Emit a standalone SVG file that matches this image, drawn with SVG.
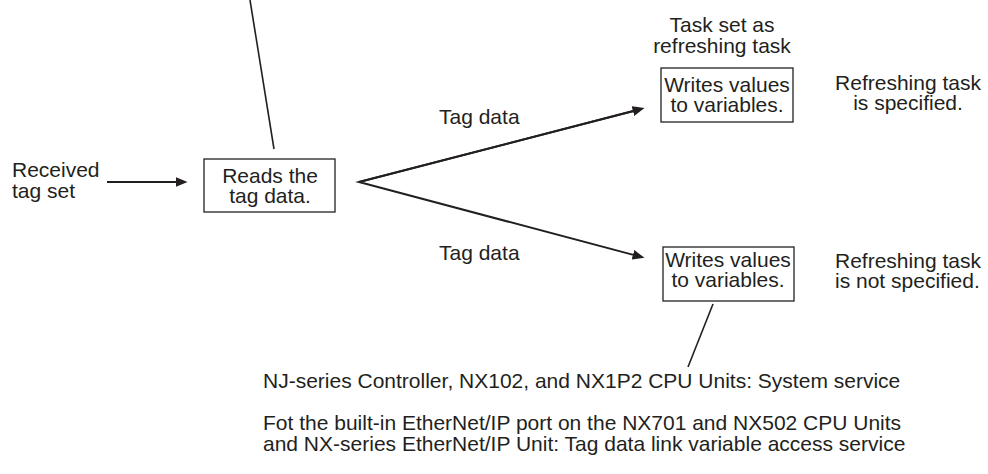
<svg xmlns="http://www.w3.org/2000/svg" width="988" height="474" viewBox="0 0 988 474">
<style>
text{font-family:"Liberation Sans",Arial,sans-serif;font-size:21px;fill:#231f20}
.c{text-anchor:middle}
.box{fill:#fff;stroke:#231f20;stroke-width:1.3}
.ln{fill:none;stroke:#231f20;stroke-width:1.6}
.ar{fill:none;stroke:#231f20;stroke-width:2}
</style>
<defs>
<marker id="ah" viewBox="0 0 12 10" refX="0.5" refY="5" markerWidth="12" markerHeight="10" markerUnits="userSpaceOnUse" orient="auto">
<path d="M0,0 L12,5 L0,10 z" fill="#231f20"/>
</marker>
</defs>
<g id="connectors">
<line class="ln" x1="250" y1="0" x2="274" y2="149"/>
<line class="ar" x1="107" y1="182" x2="176" y2="182" marker-end="url(#ah)"/>
<polyline class="ar" points="633.4,111 359,182 633.4,254.9" marker-end="url(#ah)"/>
<line class="ar" x1="359" y1="182" x2="633.4" y2="111" marker-end="url(#ah)"/>
<line class="ln" x1="713" y1="304" x2="688" y2="367"/>
</g>
<g id="received">
<text x="12" y="177">Received</text>
<text x="12" y="198">tag set</text>
</g>
<g id="reads">
<rect class="box" x="204" y="159" width="131" height="53"/>
<text class="c" x="270" y="183">Reads the</text>
<text class="c" x="270" y="203">tag data.</text>
</g>
<g id="tagdata1"><text x="439" y="124">Tag data</text></g>
<g id="tagdata2"><text x="439" y="260">Tag data</text></g>
<g id="taskset">
<text class="c" x="722" y="32">Task set as</text>
<text class="c" x="722" y="53">refreshing task</text>
</g>
<g id="writes1">
<rect class="box" x="661" y="68" width="132" height="54"/>
<text class="c" x="727" y="92">Writes values</text>
<text class="c" x="727" y="112">to variables.</text>
</g>
<g id="spec1">
<text class="c" x="908" y="90">Refreshing task</text>
<text class="c" x="908" y="110">is specified.</text>
</g>
<g id="writes2">
<rect class="box" x="663" y="247" width="131" height="54"/>
<text class="c" x="728" y="267">Writes values</text>
<text class="c" x="728" y="287">to variables.</text>
</g>
<g id="spec2">
<text x="835" y="268">Refreshing task</text>
<text x="835" y="288">is not specified.</text>
</g>
<g id="note1"><text x="263" y="388">NJ-series Controller, NX102, and NX1P2 CPU Units: System service</text></g>
<g id="note2">
<text x="263" y="430">Fot the built-in EtherNet/IP port on the NX701 and NX502 CPU Units</text>
<text x="263" y="451">and NX-series EtherNet/IP Unit: Tag data link variable access service</text>
</g>
</svg>
